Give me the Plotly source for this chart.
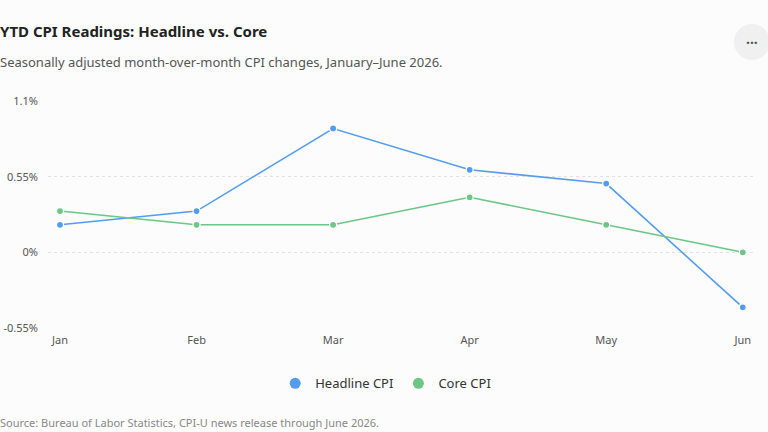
import plotly.graph_objects as go

months = ["Jan", "Feb", "Mar", "Apr", "May", "Jun"]
headline = [0.2, 0.3, 0.9, 0.6, 0.5, -0.4]
core = [0.3, 0.2, 0.2, 0.4, 0.2, 0.0]
tick_vals = [-0.55, 0, 0.55, 1.1]
tick_text = ["-0.55%", "0%", "0.55%", "1.1%"]

FONT = "Noto Sans, Open Sans, sans-serif"
BLUE = "#559cf0"
GREEN = "#6cc685"

fig = go.Figure()
for name, vals, color in [("Headline CPI", headline, BLUE), ("Core CPI", core, GREEN)]:
    fig.add_trace(go.Scatter(
        x=months, y=vals, name=name, mode="lines+markers", showlegend=False,
        line=dict(color=color, width=1.6),
        marker=dict(size=7, color=color, line=dict(color="white", width=1.2)),
    ))
    # legend entry: dot only
    fig.add_trace(go.Scatter(
        x=[None], y=[None], name=name, mode="markers",
        marker=dict(size=11, color=color),
    ))

fig.update_layout(
    width=768, height=432,
    paper_bgcolor="#fcfcfc", plot_bgcolor="#fcfcfc",
    margin=dict(l=48, r=15, t=101, b=104),
    font=dict(family=FONT, color="#555"),
    legend=dict(orientation="h", x=0.479, xanchor="center", y=-0.178, yanchor="top",
                font=dict(size=13, color="#333"), itemwidth=30, tracegroupgap=0),
    xaxis=dict(
        range=[-0.088, 5.075], showgrid=False, zeroline=False, showline=False,
        tickfont=dict(size=11, color="#555"), ticks="", ticklabelstandoff=4,
        automargin=False,
    ),
    yaxis=dict(
        tickmode="array", tickvals=tick_vals, ticktext=tick_text,
        range=[-0.55, 1.1], showgrid=True, gridcolor="#e2e2e2", griddash="dot",
        gridwidth=1, zeroline=False, showline=False,
        tickfont=dict(size=11, color="#555"), ticks="", ticklabelstandoff=9,
        automargin=False,
    ),
    annotations=[
        dict(text="<b>YTD CPI Readings: Headline vs. Core</b>", xref="paper", yref="paper",
             x=0, y=1.0, xanchor="left", yanchor="bottom", xshift=-50, yshift=58,
             showarrow=False, font=dict(size=15, color="#222", family=FONT)),
        dict(text="Seasonally adjusted month-over-month CPI changes, January\u2013June 2026.",
             xref="paper", yref="paper", x=0, y=1.0, xanchor="left", yanchor="bottom",
             xshift=-50, yshift=28, showarrow=False, font=dict(size=13, color="#555", family=FONT)),
        dict(text="Source: Bureau of Labor Statistics, CPI-U news release through June 2026.",
             xref="paper", yref="paper", x=0, y=0, xanchor="left", yanchor="top",
             xshift=-50, yshift=-85, showarrow=False, font=dict(size=11, color="#888", family=FONT)),
        dict(text="<b>\u00b7\u00b7\u00b7</b>", xref="paper", yref="paper", x=1.0, y=1.0,
             xanchor="center", yanchor="middle", xshift=-1, yshift=59,
             showarrow=False, font=dict(size=14, color="#555", family=FONT)),
    ],
    shapes=[
        dict(type="circle", xref="paper", yref="paper", xsizemode="pixel", ysizemode="pixel",
             xanchor=1.0, yanchor=1.0, x0=-19, x1=17, y0=41, y1=77,
             fillcolor="#f0f0f0", line=dict(width=0), layer="below"),
    ],
)

fig.write_html("out.html", config={"displayModeBar": False},
               post_script="document.body.style.margin='0';")
